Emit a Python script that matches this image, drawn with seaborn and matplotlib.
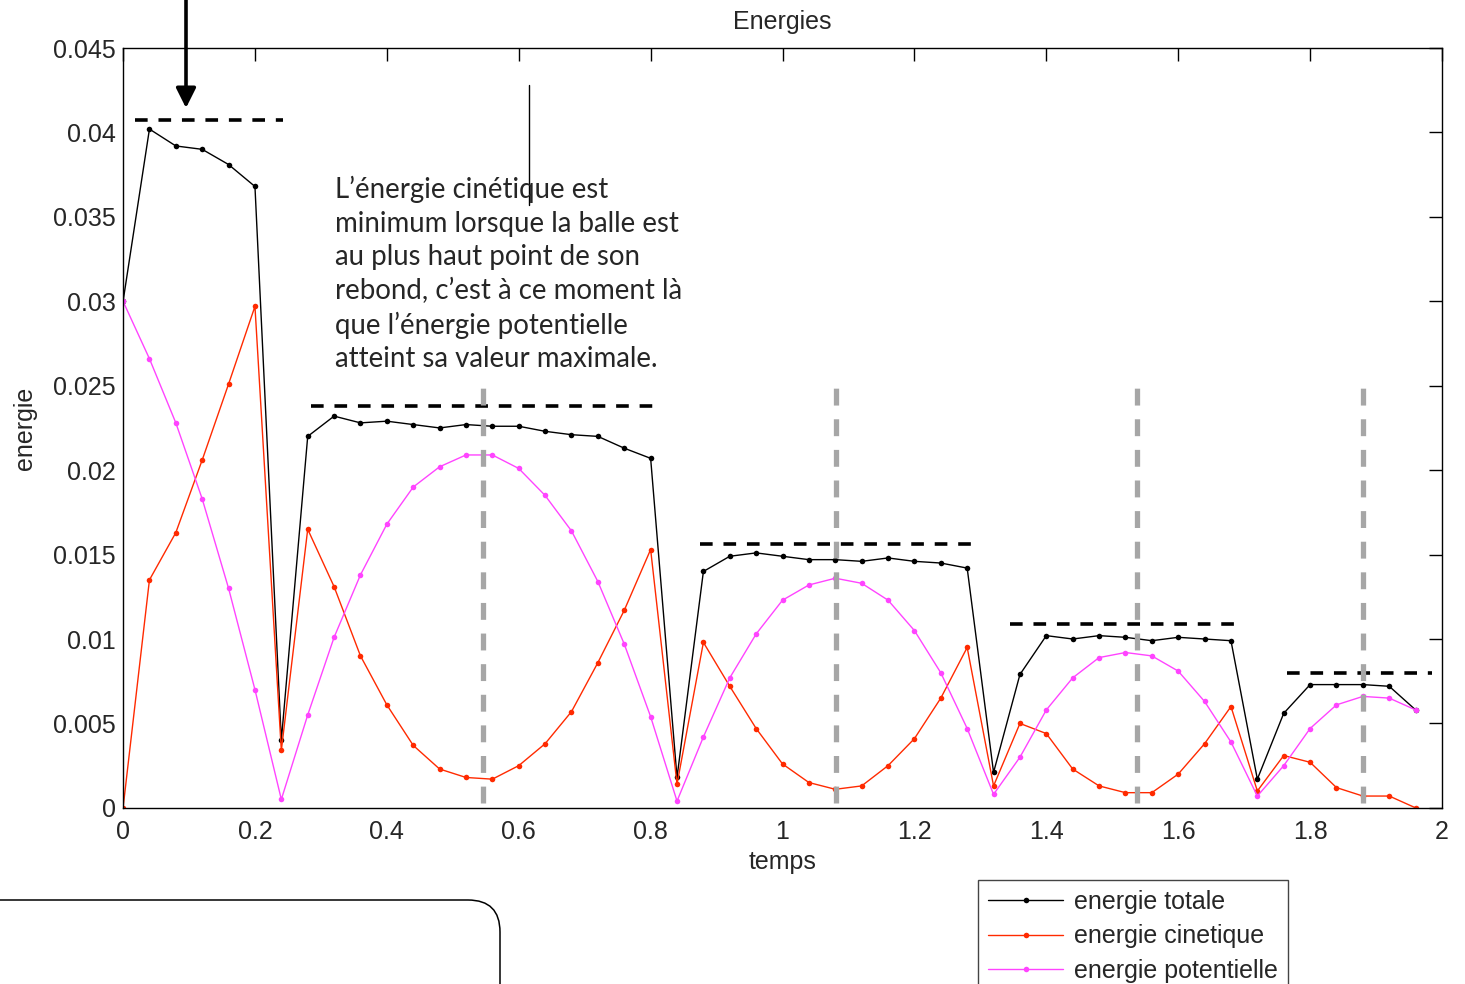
import numpy as np
import pandas as pd
import seaborn as sns
import matplotlib.pyplot as plt
from matplotlib.patches import FancyBboxPatch

# temps (s) et energies
temps = [0.00, 0.04, 0.08, 0.12, 0.16, 0.20, 0.24, 0.28, 0.32, 0.36,
         0.40, 0.44, 0.48, 0.52, 0.56, 0.60, 0.64, 0.68, 0.72, 0.76,
         0.80, 0.84, 0.88, 0.92, 0.96, 1.00, 1.04, 1.08, 1.12, 1.16,
         1.20, 1.24, 1.28, 1.32, 1.36, 1.40, 1.44, 1.48, 1.52, 1.56,
         1.60, 1.64, 1.68, 1.72, 1.76, 1.80, 1.84, 1.88, 1.92, 1.96]

e_totale = [0.0300, 0.0402, 0.0392, 0.0390, 0.0381, 0.0368, 0.0040,
            0.0220, 0.0232, 0.0228, 0.0229, 0.0227, 0.0225, 0.0227, 0.0226, 0.0226,
            0.0223, 0.0221, 0.0220, 0.0213, 0.0207, 0.0018,
            0.0140, 0.0149, 0.0151, 0.0149, 0.0147, 0.0147, 0.0146, 0.0148, 0.0146,
            0.0145, 0.0142, 0.0021,
            0.0079, 0.0102, 0.0100, 0.0102, 0.0101, 0.0099, 0.0101, 0.0100, 0.0099, 0.0017,
            0.0056, 0.0073, 0.0073, 0.0073, 0.0072, 0.0058]

e_cinetique = [0.0000, 0.0135, 0.0163, 0.0206, 0.0251, 0.0297, 0.0034,
               0.0165, 0.0131, 0.0090, 0.0061, 0.0037, 0.0023, 0.0018, 0.0017, 0.0025,
               0.0038, 0.0057, 0.0086, 0.0117, 0.0153, 0.0014,
               0.0098, 0.0072, 0.0047, 0.0026, 0.0015, 0.0011, 0.0013, 0.0025, 0.0041,
               0.0065, 0.0095, 0.0013,
               0.0050, 0.0044, 0.0023, 0.0013, 0.0009, 0.0009, 0.0020, 0.0038, 0.0060, 0.0010,
               0.0031, 0.0027, 0.0012, 0.0007, 0.0007, 0.0000]

e_potentielle = [0.0300, 0.0266, 0.0228, 0.0183, 0.0130, 0.0070, 0.0005,
                 0.0055, 0.0101, 0.0138, 0.0168, 0.0190, 0.0202, 0.0209, 0.0209, 0.0201,
                 0.0185, 0.0164, 0.0134, 0.0097, 0.0054, 0.0004,
                 0.0042, 0.0077, 0.0103, 0.0123, 0.0132, 0.0136, 0.0133, 0.0123, 0.0105,
                 0.0080, 0.0047, 0.0008,
                 0.0030, 0.0058, 0.0077, 0.0089, 0.0092, 0.0090, 0.0081, 0.0063, 0.0039, 0.0007,
                 0.0025, 0.0047, 0.0061, 0.0066, 0.0065, 0.0058]

# niveaux max (pointilles noirs) : niveau, debut, fin
paliers_y = [0.04075, 0.0238, 0.01563, 0.01089, 0.0080]
paliers_x0 = [0.018, 0.285, 0.875, 1.345, 1.765]
paliers_x1 = [0.243, 0.804, 1.296, 1.694, 1.985]

# sommets des rebonds (pointilles gris)
sommets_t = [0.546, 1.081, 1.5375, 1.880]

series = ['energie totale', 'energie cinetique', 'energie potentielle']
couleurs = ['black', '#ff2a00', '#ff44ff']

texte = ("L\u2019énergie cinétique est\n"
         "minimum lorsque la balle est\n"
         "au plus haut point de son\n"
         "rebond, c\u2019est à ce moment là\n"
         "que l\u2019énergie potentielle\n"
         "atteint sa valeur maximale.")

sns.set_style("white")
plt.rcParams['font.family'] = ['Liberation Sans', 'DejaVu Sans']

df = pd.DataFrame({'temps': temps,
                   series[0]: e_totale,
                   series[1]: e_cinetique,
                   series[2]: e_potentielle})

fig = plt.figure(figsize=(14.65, 9.84), dpi=100)
ax = fig.add_axes([0.084, 0.179, 0.9003, 0.7722])

for s, c in zip(series, couleurs):
    sns.lineplot(data=df, x='temps', y=s, ax=ax, color=c, label=s,
                 marker='o', markersize=4, markeredgewidth=0, linewidth=1.0)

for y, x0, x1 in zip(paliers_y, paliers_x0, paliers_x1):
    ax.plot([x0, x1], [y, y], color='black', lw=2.6, ls=(0, (3.5, 3.0)))

for t in sommets_t:
    ax.plot([t, t], [0.0003, 0.0249], color='#a6a6a6', lw=3.8, ls=(0, (3.2, 2.6)))

ax.set_xlim(0, 2)
ax.set_ylim(0, 0.045)
ax.set_xticks(np.arange(0, 2.01, 0.2))
ax.set_yticks(np.arange(0, 0.0451, 0.005))
ax.set_xticklabels(['0', '0.2', '0.4', '0.6', '0.8', '1', '1.2', '1.4', '1.6', '1.8', '2'])
ax.set_yticklabels(['0', '0.005', '0.01', '0.015', '0.02', '0.025', '0.03', '0.035', '0.04', '0.045'])
ax.tick_params(axis='both', direction='in', length=9.5, width=1.0, labelsize=18,
               top=True, right=True, color='black')
ax.tick_params(axis='x', pad=9)
ax.tick_params(axis='y', pad=5)
for sp in ax.spines.values():
    sp.set_color('black')
    sp.set_linewidth(1.0)

ax.set_title('Energies', fontsize=18, pad=14)
ax.set_xlabel('temps', fontsize=18, labelpad=4)
ax.set_ylabel('energie', fontsize=18, labelpad=12)

ax.legend(loc='upper left', bbox_to_anchor=(978 / 1465, 1 - 880 / 984),
          bbox_transform=fig.transFigure, borderaxespad=0, fontsize=18,
          handlelength=3.0, handletextpad=0.45, labelspacing=0.42,
          frameon=True, fancybox=False, edgecolor='#444444', framealpha=1)

fig.text(0.2287, 0.821, texte, ha='left', va='top', fontsize=19.9,
         family=['Lato', 'DejaVu Sans'], linespacing=1.35)

# fleche du haut et trait fin
ax.annotate('', xy=(186 / 1465, 1 - 108 / 984), xytext=(186 / 1465, 1.01),
            xycoords='figure fraction', textcoords='figure fraction',
            arrowprops=dict(arrowstyle='-|>', lw=2.6, color='black',
                            mutation_scale=30, shrinkA=0, shrinkB=0),
            annotation_clip=False)
fig.add_artist(plt.Line2D([529 / 1465, 529 / 1465], [1 - 85 / 984, 1 - 205 / 984],
                          transform=fig.transFigure, color='black', lw=1.0))

# cadre arrondi en bas a gauche
box = FancyBboxPatch((-1.0, -1.0), 6.0, 1.84, boxstyle='round,pad=0,rounding_size=0.32',
                     transform=fig.dpi_scale_trans, fill=False, ec='black', lw=1.1)
fig.add_artist(box)

fig.savefig('out.png', dpi=100)
